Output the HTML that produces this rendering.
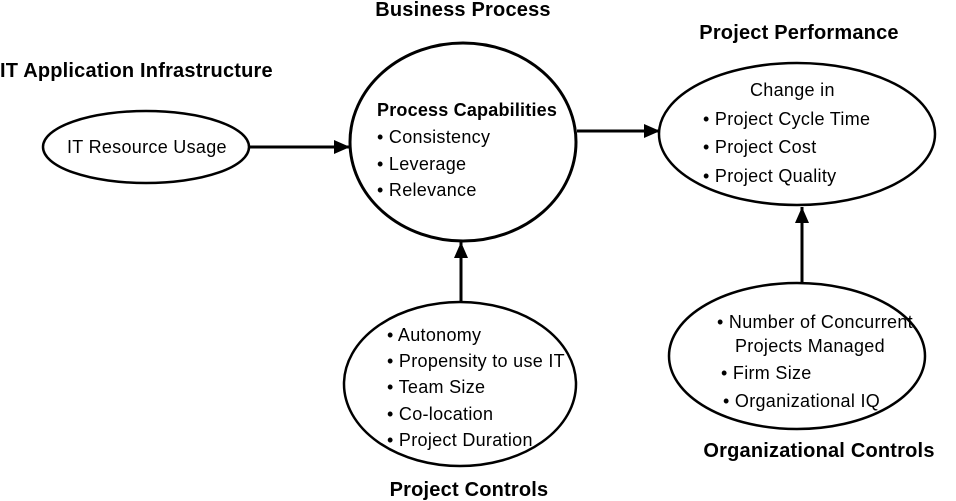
<!DOCTYPE html>
<html><head><style>
html,body{margin:0;padding:0;background:#fff;}
svg{display:block;}
text{font-family:"Liberation Sans",Arial,sans-serif;font-size:18px;letter-spacing:0.3px;fill:#000;}
.b{font-weight:bold;font-size:20px;letter-spacing:0.2px;}
</style></head><body>
<svg width="956" height="501" viewBox="0 0 956 501" xmlns="http://www.w3.org/2000/svg">
<defs>
<marker id="ah" viewBox="0 0 16 14" markerWidth="16" markerHeight="14" refX="16" refY="7" orient="auto" markerUnits="userSpaceOnUse"><path d="M0,0 L16,7 L0,14 z" fill="#000"/></marker></defs>
<g fill="none" stroke="#000" stroke-width="3">
<ellipse cx="146" cy="147" rx="103" ry="36" stroke-width="2.5"/>
<ellipse cx="463" cy="142" rx="113" ry="99"/>
<ellipse cx="797" cy="134" rx="138" ry="71" stroke-width="2.5"/>
<ellipse cx="797" cy="356" rx="128" ry="73" stroke-width="2.5"/>
<ellipse cx="460" cy="384" rx="116" ry="82" stroke-width="2.5"/>
<line x1="249" y1="147" x2="350" y2="147" marker-end="url(#ah)"/>
<line x1="577" y1="131" x2="660" y2="131" marker-end="url(#ah)"/>
<line x1="461" y1="303" x2="461" y2="242" marker-end="url(#ah)"/>
<line x1="802" y1="282" x2="802" y2="207" marker-end="url(#ah)"/>
</g>
<text class="b" x="463" y="16" text-anchor="middle">Business Process</text>
<text class="b" x="0" y="77">IT Application Infrastructure</text>
<text class="b" x="799" y="39" text-anchor="middle">Project Performance</text>
<text class="b" x="819" y="457" text-anchor="middle">Organizational Controls</text>
<text class="b" x="469" y="496" text-anchor="middle">Project Controls</text>
<text x="67" y="153">IT Resource Usage</text>
<text class="b" x="377" y="116" style="font-size:18px">Process Capabilities</text>
<text x="377" y="143">• Consistency</text>
<text x="377" y="170">• Leverage</text>
<text x="377" y="196">• Relevance</text>
<text x="750" y="96">Change in</text>
<text x="703" y="125">• Project Cycle Time</text>
<text x="703" y="153">• Project Cost</text>
<text x="703" y="182">•  Project Quality</text>
<text x="717" y="328">• Number of Concurrent</text>
<text x="735" y="352">Projects Managed</text>
<text x="721" y="379">•  Firm Size</text>
<text x="723" y="407">• Organizational IQ</text>
<text x="387" y="341">•  Autonomy</text>
<text x="387" y="367">•  Propensity to use IT</text>
<text x="387" y="393">•  Team Size</text>
<text x="387" y="420">•  Co-location</text>
<text x="387" y="446">•  Project Duration</text>
</svg>
</body></html>
